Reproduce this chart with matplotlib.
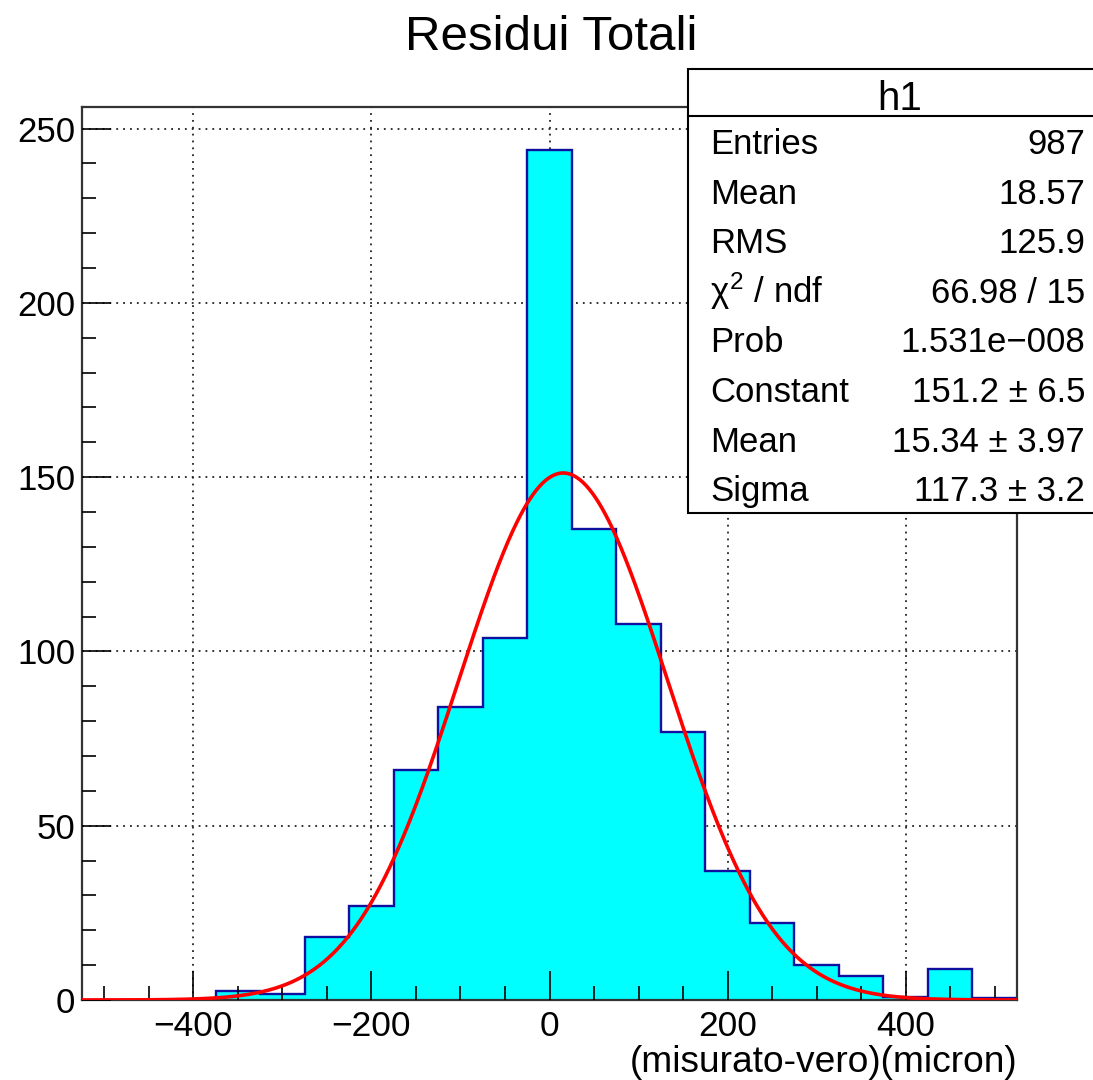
import numpy as np
import matplotlib
matplotlib.use("Agg")
import matplotlib.pyplot as plt
from matplotlib.patches import Rectangle
from matplotlib.lines import Line2D
from matplotlib.ticker import MultipleLocator

# ---------------- data ----------------
bin_edges = np.arange(-525, 526, 50)
counts = [0, 0, 0, 2.5, 1.8, 18, 27, 66, 84, 104, 244, 135, 108, 77, 37, 22, 10, 7, 1, 9, 0.6]

fit_constant = 151.2
fit_mean = 15.34
fit_sigma = 117.3

title = "Residui Totali"
xlabel = "(misurato-vero)(micron)"
stats_name = "h1"
stats_labels = ["Entries", "Mean", "RMS", r"$\chi^{2}$ / ndf", "Prob", "Constant", "Mean", "Sigma"]
stats_values = ["987", "18.57", "125.9", "66.98 / 15", "1.531e\u2212008",
                "151.2 \u00b1 6.5", "15.34 \u00b1 3.97", "117.3 \u00b1 3.2"]

# ---------------- style ----------------
plt.rcParams['font.family'] = ['Liberation Sans', 'DejaVu Sans']
plt.rcParams['mathtext.fontset'] = 'custom'
plt.rcParams['mathtext.rm'] = 'Liberation Sans'
plt.rcParams['mathtext.it'] = 'Liberation Sans'
plt.rcParams['mathtext.bf'] = 'Liberation Sans:bold'

W, H = 1093, 1080
fig = plt.figure(figsize=(W / 100, H / 100), dpi=100)

def fx(px):
    return px / W

def fy(py):
    return 1 - py / H

ax = fig.add_axes([fx(82), fy(1000), fx(1017) - fx(82), fy(107) - fy(1000)])

# grid (below histogram)
for xv in [-400, -200, 0, 200, 400]:
    ax.axvline(xv, color='#222222', lw=1.3, ls=(0, (1, 2.8)), zorder=0.5)
for yv in [50, 100, 150, 200, 250]:
    ax.axhline(yv, color='#222222', lw=1.3, ls=(0, (1, 2.8)), zorder=0.5)

ax.stairs(counts, bin_edges, fill=True, color='#00ffff', zorder=1)
ax.stairs(counts, bin_edges, color='#1010a0', lw=1.7, zorder=2)

xs = np.linspace(bin_edges[0], bin_edges[-1], 600)
ax.plot(xs, fit_constant * np.exp(-0.5 * ((xs - fit_mean) / fit_sigma) ** 2),
        color='#ff0000', lw=2.6, zorder=3)

ax.set_xlim(-525, 525)
ax.set_ylim(0, 256.2)
ax.set_axisbelow(False)

ax.xaxis.set_major_locator(MultipleLocator(200))
ax.xaxis.set_minor_locator(MultipleLocator(50))
ax.yaxis.set_major_locator(MultipleLocator(50))
ax.yaxis.set_minor_locator(MultipleLocator(10))

ax.tick_params(which='both', direction='in', top=False, right=False, colors='black', width=1.2)
ax.tick_params(which='major', length=21)
ax.tick_params(which='minor', length=10)
ax.tick_params(axis='x', which='major', labelsize=25.5, pad=7)
ax.tick_params(axis='y', which='major', labelsize=25, pad=5)

for s in ax.spines.values():
    s.set_linewidth(1.6)
    s.set_color('#333333')

ax.set_xlabel(xlabel, fontsize=26.7, loc='right', labelpad=2)

fig.text(fx(551), fy(50), title, fontsize=35.5, ha='center', va='baseline')

# stats box
box = Rectangle((fx(688), fy(513)), fx(1112) - fx(688), fy(69) - fy(513),
                transform=fig.transFigure, facecolor='white', edgecolor='black',
                lw=1.5, zorder=10, clip_on=False)
fig.patches.append(box)
fig.lines.append(Line2D([fx(688), fx(1093)], [fy(116), fy(116)],
                        transform=fig.transFigure, color='black', lw=1.5, zorder=11))
fig.text(fx(900), fy(110), stats_name, fontsize=29, ha='center', va='baseline', zorder=12)
for i, (lab, val) in enumerate(zip(stats_labels, stats_values)):
    yb = 154 + 49.6 * i
    fig.text(fx(710), fy(yb), lab, fontsize=25, ha='left', va='baseline', zorder=12)
    fig.text(fx(1085), fy(yb), val, fontsize=25, ha='right', va='baseline', zorder=12)

fig.savefig("out.png", dpi=100, facecolor='white')
